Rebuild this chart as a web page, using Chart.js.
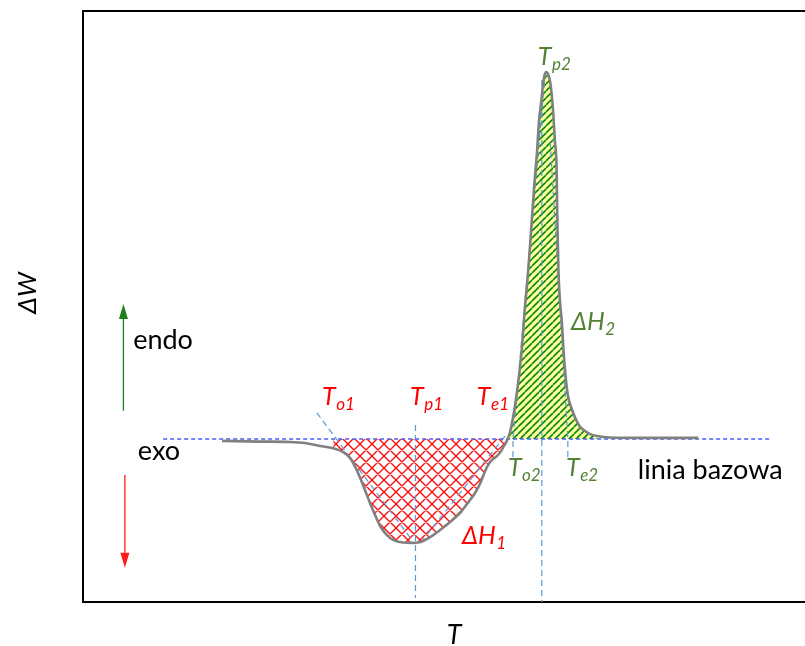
<!DOCTYPE html>
<html>
<head>
<meta charset="utf-8">
<title>DSC – ΔW(T)</title>
<script src="https://cdn.jsdelivr.net/npm/chart.js@4.4.1/dist/chart.umd.min.js"></script>
<style>
  html, body { margin: 0; padding: 0; background: #ffffff; }
  canvas { display: block; }
</style>
</head>
<body>
<canvas id="dsc" width="805" height="646"></canvas>
<script>
// DSC thermogram: heat-flow difference ΔW against temperature T (arbitrary units,
// baseline at ΔW = 0, endothermic peak height = 100).

// measured curve
const curveT = [38.5, 49.0, 57.3, 61.5, 65.7, 69.3, 72.0, 74.0, 75.3, 76.7, 78.1, 79.5,
  80.9, 82.3, 84.2, 85.9, 88.6, 91.4, 92.8, 94.2, 96.7, 98.9, 101.7, 104.4, 106.6,
  108.6, 110.2, 111.4, 112.2, 113.3, 114.7, 115.8, 116.6, 117.5, 118.3, 119.1, 119.9,
  120.8, 121.6, 122.4, 123.3, 124.1, 124.9, 125.8, 126.3, 126.9, 127.4, 127.8, 128.3,
  128.8, 129.4, 129.9, 130.3, 130.7, 131.2, 131.4, 131.7, 132.1, 132.7, 133.1, 133.7,
  134.3, 135.5, 136.6, 137.7, 139.1, 140.4, 142.4, 146.0, 154.3, 170.4];
const curveW = [-0.5, -0.7, -0.8, -1.1, -1.9, -2.5, -3.5, -5.2, -7.4, -10.4, -13.9, -17.4,
  -20.7, -23.7, -26.2, -27.5, -28.2, -28.3, -28.2, -27.8, -26.4, -24.8, -22.6, -20.2, -17.4,
  -14.7, -11.7, -8.7, -7.1, -5.7, -4.6, -3.3, -1.9, -0.3, 1.9, 5.7, 10.6,
  17.4, 25.1, 35.7, 45.5, 56.4, 67.8, 78.7, 86.4, 91.6, 96.2, 98.9, 100.0,
  99.5, 97.3, 93.2, 88.3, 81.5, 73.3, 59.7, 46.0, 37.9, 31.1, 24.3, 16.9,
  12.0, 7.9, 5.2, 3.3, 2.2, 1.4, 0.8, 0.4, 0.3, 0.3];

// baseline (linia bazowa)
const baseT = [22.2, 190.9];
const baseW = [0, 0];

// integration limits of the two peaks
const range1 = [69.3, 117.5];   // ΔH1 (exo)
const range2 = [117.5, 142.4];  // ΔH2 (endo)

// construction lines for onset / peak / end temperatures
const to1T = [64.8, 91.1],  to1W = [7.1, -27.5];
const tp1T = [92.1, 92.1],  tp1W = [3.8, -43.3];
const te1T = [116.9, 93.9], te1W = [0.8, -27.8];
const to2T = [119.1, 119.1, 128.0], to2W = [-4.9, 0, 99.2];
const tp2T = [127.1, 127.1], tp2W = [97.8, -44.4];
const te2T = [134.3, 134.3, 129.4], te2W = [-4.9, 0, 81.5];

// axis extents
const tRange = [0, 200];
const wRange = [-44.4, 116.6];

const pts = (ts, ws) => ts.map((t, i) => ({ x: t, y: ws[i] }));
const slice = (lo, hi) => pts(curveT, curveW).filter(p => p.x >= lo && p.x <= hi);

function crossHatch() {
  const s = 12, c = document.createElement('canvas');
  c.width = s; c.height = s;
  const g = c.getContext('2d');
  g.strokeStyle = '#ff1010';
  g.lineWidth = 1.4;
  g.beginPath();
  for (let k = -s; k <= s; k += s) {
    g.moveTo(k, 0); g.lineTo(k + s, s);
    g.moveTo(k + s, 0); g.lineTo(k, s);
  }
  g.stroke();
  return g.createPattern(c, 'repeat');
}

function stripes() {
  const s = 7, c = document.createElement('canvas');
  c.width = s; c.height = s;
  const g = c.getContext('2d');
  g.fillStyle = '#fbfca0';
  g.fillRect(0, 0, s, s);
  g.strokeStyle = '#0a8a0a';
  g.lineWidth = 1.6;
  g.beginPath();
  for (let k = -s; k <= s; k += s) {
    g.moveTo(k, s); g.lineTo(k + s, 0);
  }
  g.stroke();
  return g.createPattern(c, 'repeat');
}

const RED = '#ff0000';
const GREEN = '#548235';
const FONT = 'Lato, "Open Sans", sans-serif';

// text annotations: anchor in data units (left edge, baseline)
const notes = [
  { t: 66.2,  w: 9.3,   color: RED,   main: 'T',  sub: 'o1' },
  { t: 90.6,  w: 9.3,   color: RED,   main: 'T',  sub: 'p1' },
  { t: 109.1, w: 9.3,   color: RED,   main: 'T',  sub: 'e1' },
  { t: 105.0, w: -28.6, color: RED,   main: 'ΔH', sub: '1' },
  { t: 126.0, w: 101.9, color: GREEN, main: 'T',  sub: 'p2' },
  { t: 135.2, w: 29.7,  color: GREEN, main: 'ΔH', sub: '2' },
  { t: 117.7, w: -10.1, color: GREEN, main: 'T',  sub: 'o2' },
  { t: 133.8, w: -10.1, color: GREEN, main: 'T',  sub: 'e2' }
];
const plainNotes = [
  { t: 13.9,  w: 24.5,  text: 'endo' },
  { t: 15.2,  w: -5.7,  text: 'exo' },
  { t: 153.7, w: -10.9, text: 'linia bazowa' }
];
const arrows = [
  { t: 11.2, from: 7.7,  to: 36.8,  color: '#1a801a' },
  { t: 11.6, from: -9.8, to: -35.1, color: '#ff1a1a' }
];

const annotate = {
  id: 'annotate',
  afterDatasetsDraw(chart) {
    const { ctx, scales: { x, y } } = chart;
    ctx.save();
    ctx.textBaseline = 'alphabetic';
    ctx.textAlign = 'left';
    for (const n of notes) {
      const px = x.getPixelForValue(n.t), py = y.getPixelForValue(n.w);
      ctx.fillStyle = n.color;
      ctx.font = 'italic 25px ' + FONT;
      ctx.fillText(n.main, px, py);
      const w = ctx.measureText(n.main).width;
      ctx.font = 'italic 17px ' + FONT;
      ctx.fillText(n.sub, px + w + 0.5, py + 5);
    }
    ctx.fillStyle = '#000000';
    ctx.font = '27px ' + FONT;
    for (const n of plainNotes) {
      ctx.fillText(n.text, x.getPixelForValue(n.t), y.getPixelForValue(n.w));
    }
    for (const a of arrows) {
      const px = x.getPixelForValue(a.t);
      const p0 = y.getPixelForValue(a.from), p1 = y.getPixelForValue(a.to);
      const dir = p1 < p0 ? -1 : 1, head = 15, half = 4.5;
      ctx.strokeStyle = a.color;
      ctx.fillStyle = a.color;
      ctx.lineWidth = 1.3;
      ctx.beginPath();
      ctx.moveTo(px, p0);
      ctx.lineTo(px, p1 - dir * head);
      ctx.stroke();
      ctx.beginPath();
      ctx.moveTo(px, p1);
      ctx.lineTo(px - half, p1 - dir * head);
      ctx.lineTo(px + half, p1 - dir * head);
      ctx.closePath();
      ctx.fill();
    }
    ctx.restore();
  },
  afterDraw(chart) {
    const { ctx, chartArea } = chart;
    ctx.save();
    ctx.fillStyle = '#000000';
    ctx.textAlign = 'center';
    ctx.textBaseline = 'middle';
    // axis titles
    ctx.font = 'italic 27px ' + FONT;
    ctx.fillText('T', 454, chartArea.bottom + 33);
    ctx.translate(28, 293);
    ctx.rotate(-Math.PI / 2);
    ctx.font = 'italic 26px ' + FONT;
    ctx.fillText('ΔW', 0, 0);
    ctx.restore();
  }
};

const guide = (ts, ws) => ({
  data: pts(ts, ws),
  borderColor: '#5b9bd5',
  borderWidth: 1.2,
  borderDash: [6, 4],
  tension: 0,
  pointRadius: 0,
  fill: false,
  order: 2
});

const hiddenAxis = (pos, range) => ({
  type: 'linear',
  position: pos,
  min: range[0],
  max: range[1],
  grid: { display: false, drawTicks: false },
  ticks: { display: false },
  border: { display: true, color: '#000000', width: 2 }
});

function draw() {
  new Chart(document.getElementById('dsc'), {
    type: 'line',
    data: {
      datasets: [
        {
          label: 'ΔW',
          data: pts(curveT, curveW),
          borderColor: '#808080',
          borderWidth: 2.6,
          cubicInterpolationMode: 'monotone',
          pointRadius: 0,
          fill: false,
          order: 0
        },
        {
          label: 'linia bazowa',
          data: pts(baseT, baseW),
          borderColor: '#4a5cf2',
          borderWidth: 1.5,
          borderDash: [4, 3],
          pointRadius: 0,
          fill: false,
          order: 1
        },
        guide(to1T, to1W), guide(tp1T, tp1W), guide(te1T, te1W),
        guide(to2T, to2W), guide(tp2T, tp2W), guide(te2T, te2W),
        {
          label: 'ΔH1',
          data: slice(range1[0], range1[1]),
          borderWidth: 0,
          borderColor: 'rgba(0,0,0,0)',
          backgroundColor: crossHatch(),
          cubicInterpolationMode: 'monotone',
          pointRadius: 0,
          fill: { value: 0 },
          order: 3
        },
        {
          label: 'ΔH2',
          data: slice(range2[0], range2[1]),
          borderWidth: 0,
          borderColor: 'rgba(0,0,0,0)',
          backgroundColor: stripes(),
          cubicInterpolationMode: 'monotone',
          pointRadius: 0,
          fill: { value: 0 },
          order: 3
        }
      ]
    },
    options: {
      responsive: false,
      animation: false,
      devicePixelRatio: 1,
      layout: { padding: { left: 83, top: 11, right: 0, bottom: 44 } },
      plugins: { legend: { display: false }, tooltip: { enabled: false } },
      scales: {
        x: hiddenAxis('bottom', tRange),
        xTop: hiddenAxis('top', tRange),
        y: hiddenAxis('left', wRange)
      }
    },
    plugins: [annotate]
  });
}

if (document.fonts && document.fonts.load) {
  Promise.all([
    document.fonts.load('22px Lato'),
    document.fonts.load('italic 22px Lato')
  ]).then(draw, draw);
} else {
  draw();
}
</script>
</body>
</html>
